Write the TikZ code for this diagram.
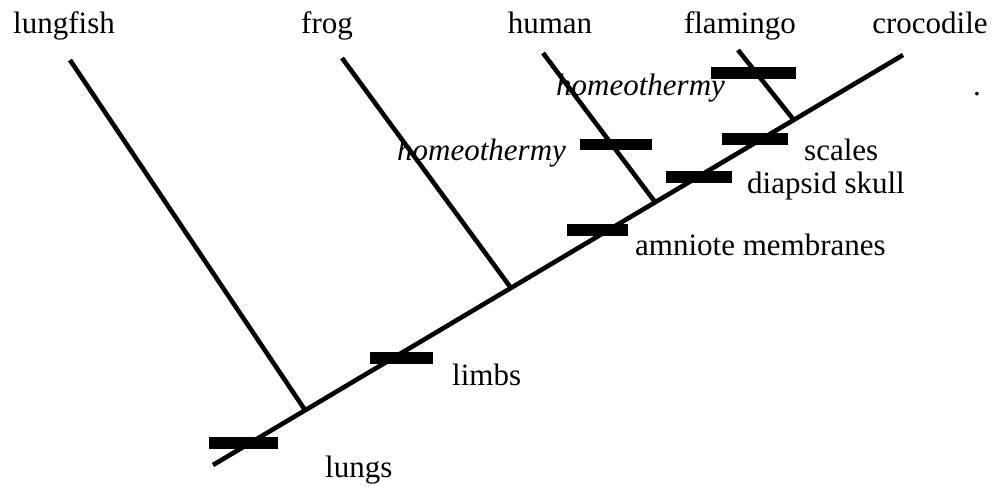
\documentclass[tikz,border=0pt]{standalone}
\usepackage{fontspec}
\setmainfont{Liberation Serif}
\usepackage{tikz}
\usetikzlibrary{
  positioning
}
\tikzset{
  taxonLabel/.style={
    anchor=base,
    inner sep=0pt,
    font=\fontsize{31}{36}\selectfont
  },
  traitLabel/.style={
    anchor=base west,
    inner sep=0pt,
    font=\fontsize{31}{36}\selectfont
  },
  traitItalic/.style={
    traitLabel,
    font=\fontsize{31}{36}\selectfont\itshape
  },
  traitBar/.style={
    rectangle,
    fill=black,
    inner sep=0pt,
    minimum height=11.5pt
  },
  cladeLine/.style={
    line width=4.6pt
  }
}

\begin{document}
\begin{tikzpicture}[x=1pt, y=-1pt]
  \useasboundingbox (0,0) rectangle (993,488);

  % taxa along the top
  \node[taxonLabel] (lungfish) at (64,33) {lungfish};
  \node[taxonLabel] (frog) at (327,33) {frog};
  \node[taxonLabel] (human) at (550,33) {human};
  \node[taxonLabel] (flamingo) at (740,33) {flamingo};
  \node[taxonLabel] (crocodile) at (930,33) {crocodile};

  % branch tips and junctions
  \coordinate (root) at (213,465);
  \coordinate (crocTip) at (903,55);
  \coordinate (lungfishTip) at (70,60);
  \coordinate (frogTip) at (342,58);
  \coordinate (humanTip) at (543,53);
  \coordinate (flamingoTip) at (738,50);
  \coordinate (lungfishJoin) at (305,410);
  \coordinate (frogJoin) at (511,288);
  \coordinate (humanJoin) at (655,202);
  \coordinate (flamingoJoin) at (793,119);

  \draw[cladeLine] (root) -- (crocTip);
  \draw[cladeLine] (lungfishTip) -- (lungfishJoin);
  \draw[cladeLine] (frogTip) -- (frogJoin);
  \draw[cladeLine] (humanTip) -- (humanJoin);
  \draw[cladeLine] (flamingoTip) -- (flamingoJoin);

  % character bars
  \node[traitBar, minimum width=69pt] (lungsBar) at (243,443) {};
  \node[traitBar, minimum width=63pt] (limbsBar) at (401,358) {};
  \node[traitBar, minimum width=61pt] (amnioteBar) at (597,230) {};
  \node[traitBar, minimum width=66pt] (diapsidBar) at (699,177) {};
  \node[traitBar, minimum width=66pt] (scalesBar) at (755,139) {};
  \node[traitBar, minimum width=72pt] (humanHomBar) at (616,144.5) {};
  \node[traitBar, minimum width=85pt] (flamingoHomBar) at (753,73) {};

  % character labels
  \node[traitLabel] (lungs) at (325,477) {lungs};
  \node[traitLabel] (limbs) at (452,385) {limbs};
  \node[traitLabel] (amniote) at (635,255) {amniote membranes};
  \node[traitLabel] (diapsid) at (747,193) {diapsid skull};
  \node[traitLabel] (scales) at (804,160) {scales};
  \node[traitItalic] (humanHom) at (397,160) {homeothermy};
  \node[traitItalic] (flamingoHom) at (556,95) {homeothermy};
  \node[traitLabel] (dot) at (973,95) {.};
\end{tikzpicture}
\end{document}
